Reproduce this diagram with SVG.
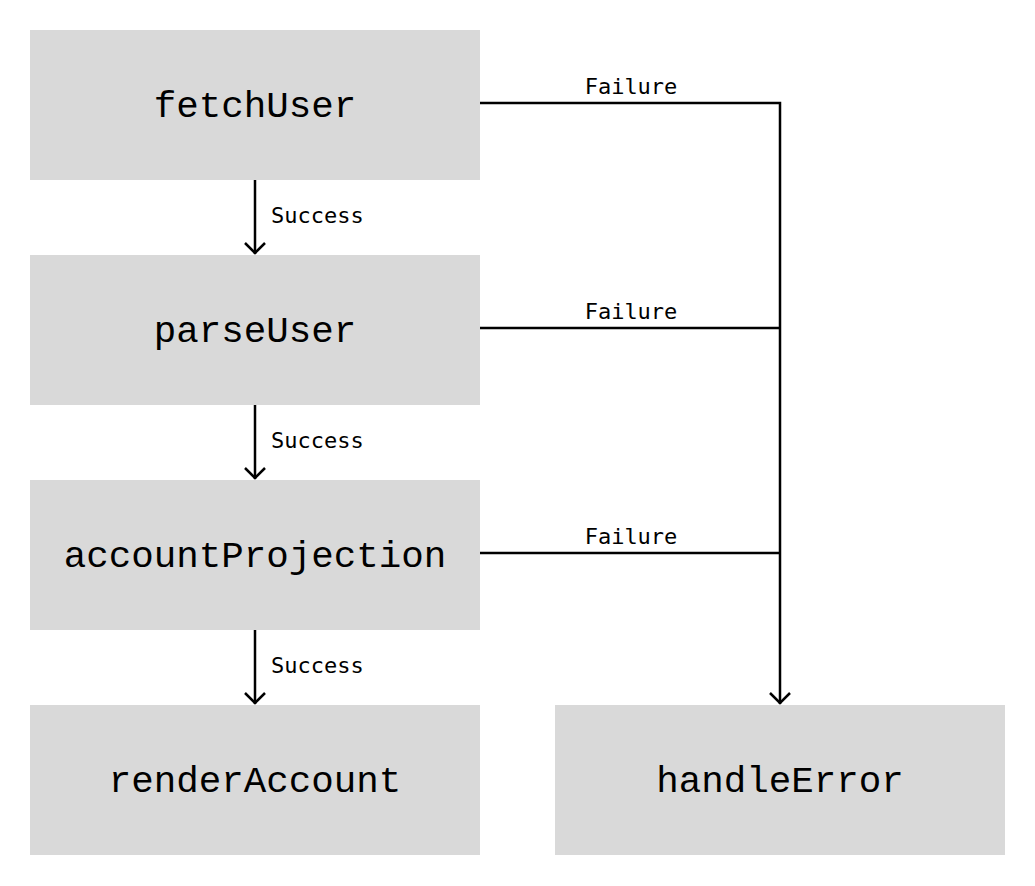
<svg xmlns="http://www.w3.org/2000/svg" width="1035" height="886" viewBox="0 0 1035 886">
<defs>
<style>
.node rect{fill:#d9d9d9}
.node text{font-family:"Liberation Mono",monospace;font-size:37.5px;fill:#000;text-anchor:middle}
.lbl{font-family:"DejaVu Sans Mono",monospace;font-size:22px;fill:#000}
.edge{stroke:#000;stroke-width:2.5;fill:none}
</style>
<marker id="arr" markerWidth="14" markerHeight="24" refX="12" refY="11" orient="auto" markerUnits="userSpaceOnUse" viewBox="0 0 14 22">
<path d="M1,1 L11,11 L1,21" fill="none" stroke="#000" stroke-width="2.5"/>
</marker>
</defs>
<rect width="1035" height="886" fill="#fff"/>
<g id="fetchUser" class="node"><rect x="30" y="30" width="450" height="150"/><text x="255" y="117">fetchUser</text></g>
<g id="parseUser" class="node"><rect x="30" y="255" width="450" height="150"/><text x="255" y="342">parseUser</text></g>
<g id="accountProjection" class="node"><rect x="30" y="480" width="450" height="150"/><text x="255" y="567">accountProjection</text></g>
<g id="renderAccount" class="node"><rect x="30" y="705" width="450" height="150"/><text x="255" y="792">renderAccount</text></g>
<g id="handleError" class="node"><rect x="555" y="705" width="450" height="150"/><text x="780" y="792">handleError</text></g>
<g id="connectors">
<path class="edge" d="M255,180 V254" marker-end="url(#arr)"/>
<path class="edge" d="M255,405 V479" marker-end="url(#arr)"/>
<path class="edge" d="M255,630 V704" marker-end="url(#arr)"/>
<path class="edge" d="M480,103 H780 V704" marker-end="url(#arr)"/>
<path class="edge" d="M480,328 H780"/>
<path class="edge" d="M480,553 H780"/>
<text class="lbl" x="271" y="223">Success</text>
<text class="lbl" x="271" y="448">Success</text>
<text class="lbl" x="271" y="673">Success</text>
<text class="lbl" x="631" y="94" text-anchor="middle">Failure</text>
<text class="lbl" x="631" y="319" text-anchor="middle">Failure</text>
<text class="lbl" x="631" y="544" text-anchor="middle">Failure</text>
</g>
</svg>
